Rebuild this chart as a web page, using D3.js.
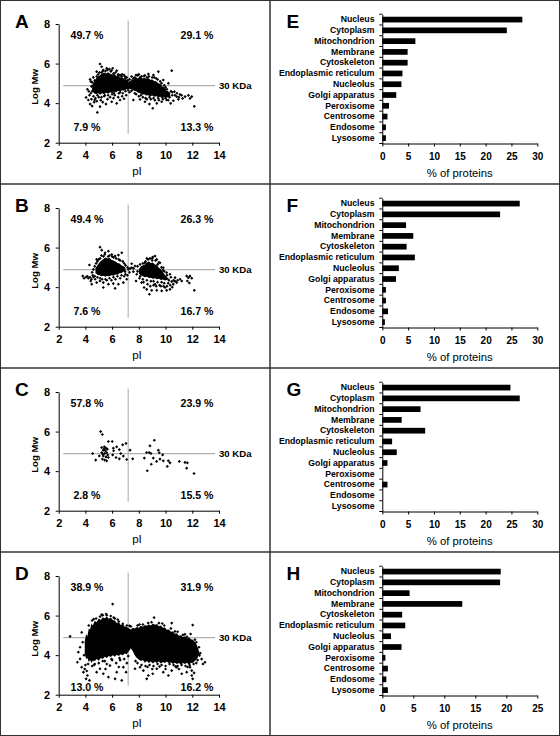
<!DOCTYPE html>
<html><head><meta charset="utf-8">
<script src="https://cdn.jsdelivr.net/npm/d3@7"></script>
<style>body{margin:0;background:#fff}svg{display:block;font-family:"Liberation Sans",Arial,sans-serif}</style>
</head><body><svg id="c" width="560" height="736"></svg>
<script>
// ---------- DATA ----------
const categories = ["Nucleus","Cytoplasm","Mitochondrion","Membrane","Cytoskeleton","Endoplasmic reticulum","Nucleolus","Golgi apparatus","Peroxisome","Centrosome","Endosome","Lysosome"];
const valuesE = [27.1,24.1,6.4,4.9,4.9,3.9,3.7,2.7,1.3,1.0,0.7,0.7];
const valuesF = [26.6,22.8,4.6,6.0,4.7,6.3,3.2,2.65,0.7,0.7,1.1,0.5];
const valuesG = [24.8,26.6,7.4,3.75,8.3,1.9,2.8,1.0,0,1.0,0,0];
const valuesH = [19.1,19.0,4.4,12.9,3.2,3.7,1.4,3.1,0.5,0.9,0.65,0.9];
const barTicks30 = [0,5,10,15,20,25,30];
const barTicks25 = [0,5,10,15,20,25];
const pITicks = [2,4,6,8,10,12,14];
const mwTicks = [2,4,6,8];
const cutPI = 7.2;
const cutMw = 4.88;
const quadA = ["49.7 %","29.1 %","7.9 %","13.3 %"];
const quadB = ["49.4 %","26.3 %","7.6 %","16.7 %"];
const quadC = ["57.8 %","23.9 %","2.8 %","15.5 %"];
const quadD = ["38.9 %","31.9 %","13.0 %","16.2 %"];

// dense (solid-looking) cores of the clouds: [pI, lowest logMw, highest logMw]
const coreA = [[4.5,4.6,4.9],[4.65,4.5,5.1],[4.8,4.45,5.25],[4.95,4.5,5.35],[5.1,4.42,5.42],[5.25,4.5,5.5],[5.4,4.45,5.55],[5.55,4.52,5.5],[5.7,4.48,5.56],[5.85,4.55,5.48],[6.0,4.5,5.45],[6.15,4.58,5.5],[6.3,4.55,5.38],[6.45,4.62,5.4],[6.6,4.58,5.3],[6.75,4.65,5.32],[6.9,4.62,5.22],[7.05,4.7,5.2],[7.2,4.7,5.08],[7.35,4.72,5.12],[7.5,4.68,5.1],[7.65,4.62,5.22],[7.8,4.6,5.3],[7.95,4.52,5.25],[8.1,4.5,5.32],[8.25,4.42,5.25],[8.4,4.45,5.3],[8.55,4.38,5.22],[8.7,4.4,5.28],[8.85,4.35,5.18],[9.0,4.38,5.2],[9.15,4.32,5.12],[9.3,4.35,5.1],[9.45,4.3,5.0],[9.6,4.32,4.98],[9.75,4.28,4.85],[9.9,4.3,4.8],[10.05,4.28,4.65],[10.2,4.3,4.6],[10.35,4.32,4.45]];
const coreB = [[4.75,4.72,4.95],[4.9,4.62,5.1],[5.05,4.6,5.25],[5.2,4.55,5.35],[5.35,4.58,5.42],[5.5,4.52,5.5],[5.65,4.56,5.45],[5.8,4.55,5.48],[5.95,4.6,5.38],[6.1,4.58,5.35],[6.25,4.64,5.3],[6.4,4.62,5.22],[6.55,4.7,5.2],[6.7,4.72,5.1],[6.85,4.78,5.05],[7.0,4.82,4.98],[7.5,null,null],[8.0,4.68,4.92],[8.15,4.6,5.0],[8.3,4.55,5.1],[8.45,4.5,5.15],[8.6,4.52,5.25],[8.75,4.46,5.3],[8.9,4.48,5.22],[9.05,4.42,5.25],[9.2,4.45,5.15],[9.35,4.4,5.1],[9.5,4.42,4.98],[9.65,4.36,4.9],[9.8,4.38,4.75],[9.95,4.34,4.62],[10.1,4.36,4.5],[10.25,4.38,4.42]];
const coreC = [];
const coreD = [[3.95,4.1,4.7],[4.05,3.8,5.05],[4.15,3.85,4.95],[4.25,3.65,5.35],[4.35,3.75,5.3],[4.45,3.6,5.6],[4.55,3.72,5.5],[4.7,3.7,5.72],[4.85,3.8,5.68],[5.0,3.72,5.85],[5.15,3.85,5.78],[5.3,3.8,5.92],[5.45,3.92,5.86],[5.6,3.85,5.95],[5.75,3.95,5.84],[5.9,3.9,5.9],[6.05,4.0,5.78],[6.2,3.92,5.75],[6.35,4.02,5.62],[6.5,3.95,5.66],[6.65,4.05,5.52],[6.8,4.0,5.55],[6.95,4.08,5.45],[7.1,4.05,5.42],[7.25,4.2,5.36],[7.4,4.35,5.3],[7.55,4.2,5.38],[7.7,3.98,5.34],[7.85,3.85,5.42],[8.0,3.78,5.38],[8.15,3.7,5.48],[8.3,3.75,5.44],[8.45,3.62,5.52],[8.6,3.7,5.48],[8.75,3.6,5.55],[8.9,3.68,5.5],[9.05,3.58,5.6],[9.2,3.66,5.54],[9.35,3.6,5.58],[9.5,3.68,5.46],[9.65,3.58,5.5],[9.8,3.65,5.38],[9.95,3.6,5.4],[10.1,3.68,5.28],[10.25,3.58,5.3],[10.4,3.64,5.18],[10.55,3.55,5.2],[10.7,3.62,5.08],[10.85,3.55,5.1],[11.0,3.6,4.98],[11.15,3.52,5.0],[11.3,3.6,4.92],[11.45,3.55,4.95],[11.6,3.62,4.85],[11.75,3.52,4.9],[11.9,3.6,4.8],[12.05,3.62,4.78],[12.2,3.7,4.65],[12.35,3.8,4.5],[12.45,3.95,4.3],[12.55,4.05,4.1]];

// individual points: [pI, logMw]
const pointsA = [[5.09,5.98],[5.22,5.84],[5.34,5.67],[5.59,5.76],[5.79,5.72],[6.04,5.76],[6.34,5.64],[6.59,5.42],[6.89,5.42],[7.09,5.30],[4.84,5.59],[4.59,5.30],[4.35,5.20],
[4.15,4.70],[4.05,4.29],[4.22,4.16],[4.35,3.95],[4.50,3.85],[4.69,4.16],[4.89,3.53],[5.09,3.82],[5.54,3.95],[5.97,4.07],[6.34,3.99],[6.59,4.16],[6.89,4.22],
[7.46,5.34],[7.79,5.42],[8.09,5.30],[8.39,5.37],[8.71,5.47],[9.09,5.42],[9.46,5.59],[10.46,5.64],[9.83,5.17],[10.21,5.00],
[7.59,4.16],[8.09,4.19],[8.46,4.07],[8.79,3.95],[9.04,3.74],[9.34,3.99],[9.71,4.07],[10.08,4.16],[10.38,3.99],[10.58,4.12],
[10.83,4.33],[11.08,4.44],[11.28,4.24],[11.46,4.33],[11.71,4.39],[11.83,4.24],[11.96,4.33],[12.15,3.84],[10.66,4.58],[10.96,4.19],
[4.4,4.5],[4.45,4.85],[4.5,5.05],[4.6,4.35],[4.75,4.25],[5.0,4.3],[5.2,4.3],[5.4,4.35],[5.7,4.4],[6.0,4.45],[6.2,4.4],[6.5,4.5],[6.8,4.5],[7.0,4.6],[7.3,4.55],
[4.95,5.45],[5.2,5.55],[5.5,5.62],[5.9,5.6],[6.1,5.5],[6.5,5.4],[6.7,5.35],[7.0,5.25],[7.3,5.2],[7.6,5.25],[7.9,5.4],[8.2,5.35],[8.6,5.3],[9.0,5.3],[9.3,5.25],[9.6,5.1],[9.9,4.9],[10.1,4.7],[10.4,4.6],[10.5,4.4],[10.3,4.3],
[7.8,4.45],[8.0,4.35],[8.3,4.3],[8.6,4.2],[8.9,4.2],[9.2,4.15],[9.5,4.15],[9.8,4.2],[10.0,4.25],[10.2,4.15],
[4.5,4.6],[4.6,4.75],[4.7,5.15],[4.85,5.35],[4.9,4.4],[5.05,5.55],[5.3,5.62],[5.45,4.4],[5.65,5.68],[5.95,5.65],[6.15,4.5],[6.25,5.55],[6.45,5.45],[6.6,4.55],[6.75,5.45],[6.95,5.35],[7.15,5.15],[7.2,4.65],[7.45,4.62],[7.5,5.15],[7.7,5.3],[7.7,4.5],[8.0,5.45],[8.15,4.4],[8.45,5.4],[8.5,4.25],[8.75,5.35],[8.8,4.3],[9.15,5.3],[9.1,4.25],[9.4,5.2],[9.45,4.25],[9.7,5.0],[9.75,4.3],[10.0,4.8],[10.05,4.35],[10.25,4.5],[10.5,4.55],[10.7,4.4],[10.85,4.5],[11.0,4.3],[11.2,4.4],[4.3,4.4],[4.25,4.6],[4.4,5.1],[4.45,4.2],[4.65,4.05],[4.85,4.1],[5.15,4.15],[5.3,4.05],[5.65,4.2],[5.85,4.3],[6.1,4.25],[6.45,4.3],[6.75,4.35],[7.05,4.4]];
const pointsB = [[5.09,6.02],[5.22,5.87],[5.47,5.74],[5.72,5.82],[5.97,5.65],[6.22,5.57],[6.47,5.62],[6.72,5.74],[5.59,5.40],[4.84,5.40],
[4.30,5.12],[3.80,4.56],[4.05,4.51],[4.22,4.45],[4.40,4.31],[4.59,4.51],[4.72,4.40],[4.47,4.15],[4.84,4.23],[5.09,4.31],[5.34,4.23],[5.34,3.98],[5.72,4.15],[6.09,4.18],[6.22,3.94],[6.47,4.15],[6.84,4.23],[7.09,4.40],[6.97,4.78],
[7.21,4.90],[7.46,4.98],[7.59,4.78],[7.71,5.07],[7.84,4.65],[7.79,4.31],[7.46,5.18],
[8.09,5.15],[8.46,5.23],[8.84,5.45],[9.04,5.52],[9.21,5.57],[9.34,5.40],[9.58,5.23],[9.83,4.98],[10.08,4.73],[10.33,4.65],
[8.21,4.23],[8.39,3.98],[8.59,3.89],[8.79,3.64],[8.96,3.84],[9.21,4.15],[9.34,3.84],[9.71,3.81],[9.96,3.98],[10.08,3.84],[10.33,3.89],[10.58,4.15],[10.83,4.23],[10.46,4.28],[11.08,4.40],[10.71,4.48],
[11.58,4.56],[11.71,4.48],[11.83,4.56],[11.96,4.45],[11.63,4.31],[11.78,4.21],[12.15,3.84],[11.21,4.31],
[4.5,4.75],[4.6,4.9],[4.7,5.05],[4.9,5.3],[5.1,5.45],[5.35,5.55],[5.8,5.6],[6.1,5.5],[6.5,5.4],[6.8,5.3],[7.0,5.1],
[4.9,4.5],[5.1,4.45],[5.5,4.4],[5.8,4.45],[6.1,4.5],[6.4,4.55],[6.7,4.6],[7.0,4.65],[7.3,4.75],
[7.9,4.8],[8.1,4.55],[8.3,4.4],[8.6,4.35],[8.9,4.3],[9.1,4.3],[9.4,4.25],[9.7,4.25],[9.9,4.2],[10.2,4.2],
[8.2,5.0],[8.5,5.3],[8.7,5.4],[9.0,5.35],[9.4,5.15],[9.7,5.0],[9.9,4.8],[10.1,4.6],[10.4,4.5],[10.6,4.35],
[4.55,4.6],[4.7,4.55],[4.8,5.2],[5.0,5.4],[5.2,5.6],[5.25,4.4],[5.45,5.65],[5.6,4.35],[5.7,5.55],[5.95,4.35],[6.0,5.55],[6.25,4.4],[6.3,5.45],[6.6,4.45],[6.6,5.35],[6.9,4.55],[6.9,5.2],[7.15,4.6],[7.15,5.0],[7.35,4.95],[7.6,4.95],[7.9,5.05],[8.05,4.45],[8.3,5.2],[8.35,4.25],[8.6,5.45],[8.65,4.15],[8.85,4.05],[9.0,5.45],[9.1,4.1],[9.25,5.35],[9.3,4.05],[9.5,5.25],[9.55,4.1],[9.65,4.05],[9.8,4.85],[9.85,4.05],[10.0,4.5],[10.1,4.05],[10.25,4.35],[10.35,4.1],[10.5,4.0],[10.7,4.3],[10.9,4.35],[3.9,4.45],[4.15,4.55],[4.35,4.5],[4.45,4.4]];
const pointsC = [[5.14,6.00],[5.27,5.85],[5.72,5.50],[6.01,5.50],[5.22,5.19],[5.42,5.23],[5.54,5.16],[5.34,5.06],[5.49,5.03],[5.64,5.11],[5.22,4.94],[5.44,4.89],[5.59,4.94],[5.34,4.77],[5.54,4.72],[5.72,4.69],[5.27,4.61],[5.44,4.56],[5.59,4.52],[4.54,4.89],[4.77,4.56],[5.04,4.77],[5.39,5.11],[5.29,4.86],[5.67,4.82],
[6.09,5.16],[6.11,5.03],[6.04,4.82],[6.34,5.23],[6.54,5.09],[6.79,5.33],[7.04,5.40],[6.64,4.89],[6.29,4.69],[6.54,4.62],[6.84,4.76],[7.09,4.59],[7.34,5.06],[7.54,4.62],
[9.16,5.56],[8.83,5.28],[8.58,4.94],[8.78,4.94],[8.91,4.89],[8.41,4.66],[9.08,4.66],[9.46,5.06],[9.53,4.93],[9.78,4.82],[9.58,4.61],[9.83,4.52],[9.33,4.49],[8.93,4.35],[10.21,4.52],[10.33,4.42],[10.13,4.24],[8.63,4.02],[11.03,4.49],[11.45,4.44],[11.63,4.42],[11.58,4.15],[12.13,3.88]];
const pointsD = [[2.85,4.95],[3.72,5.15],[3.6,4.4],[3.8,4.65],[3.47,4.15],[3.9,4.0],[3.6,3.81],[3.4,3.64],[3.72,3.39],[3.85,3.14],[4.15,2.97],[4.05,2.80],[4.3,2.72],[4.0,3.5],[3.95,3.3],[4.1,3.2],
[4.84,3.14],[5.09,3.31],[5.34,3.06],[5.72,2.89],[5.84,3.47],[6.22,2.80],[6.34,3.14],[6.84,3.39],[6.72,2.72],[7.04,3.14],[4.5,3.45],[4.7,3.55],[5.0,3.6],[5.3,3.7],[5.6,3.55],[6.0,3.75],[6.3,3.6],[6.6,3.75],[6.9,3.8],[7.1,3.6],[5.5,3.3],[6.5,3.4],
[6.04,6.58],[4.5,5.75],[4.8,5.85],[5.1,5.95],[5.3,6.02],[5.6,6.02],[5.9,5.98],[6.2,5.85],[6.5,5.7],[6.8,5.58],[7.1,5.5],[7.4,5.45],[7.9,5.5],[8.3,5.55],[8.7,5.62],[9.14,5.9],[9.5,5.62],[9.9,5.5],[10.4,5.35],[10.46,5.62],[10.9,5.18],[11.3,5.02],[11.6,4.92],[12.03,5.52],[11.88,5.07],[12.2,4.78],[12.5,4.4],[12.6,4.1],[12.7,3.8],[12.95,3.64],[12.8,3.55],[12.53,3.98],
[7.71,3.31],[8.09,3.39],[8.34,3.22],[8.71,2.97],[8.59,2.80],[9.04,3.06],[9.34,3.31],[9.83,3.14],[10.21,2.97],[10.46,3.22],[10.83,3.39],[11.21,3.06],[11.83,3.39],[11.96,3.22],[11.96,2.97],[12.03,2.80],[12.13,3.10],[11.58,3.14],
[7.9,3.6],[8.2,3.5],[8.5,3.45],[8.8,3.5],[9.1,3.45],[9.4,3.55],[9.7,3.5],[10.0,3.45],[10.3,3.55],[10.6,3.5],[10.9,3.45],[11.2,3.5],[11.5,3.45],[11.8,3.5],[12.1,3.55],[12.3,3.6],[9.0,3.3],[10.0,3.3],[11.0,3.3],
[4.25,5.5],[4.62,5.82],[5.22,6.05],[5.55,6.08],[6.12,5.9],[6.42,5.8],[7.3,5.48],[8.05,5.55],[8.95,5.66],[9.75,5.6],[10.7,5.2],[11.45,5.05],[12.3,4.65],
[4.2,3.55],[4.65,3.5],[5.45,3.7],[5.95,3.8],[6.55,3.85],[7.2,3.95],[7.75,3.7],[8.65,3.4],[9.55,3.42],[10.75,3.42],[11.65,3.4],[12.4,3.75]];

// ---------- DRAW ----------
const svg = d3.select("#c");
const ROW = 184;
const FONT = '"Liberation Sans", Arial, sans-serif';

function scatterPanel(row, letter, core, pts, quad, lowY) {
  const top = row * ROW;
  const g = svg.append("g");
  const x = d3.scaleLinear().domain([2, 14]).range([58.7, 219]);
  const y = d3.scaleLinear().domain([2, 8]).range([top + 142.7, top + 24]);
  g.append("text").attr("x", 15).attr("y", top + 28.3).attr("font-size", 19).attr("font-weight", "bold").text(letter);
  g.append("line").attr("x1", x(cutPI)).attr("x2", x(cutPI)).attr("y1", y(8.17)).attr("y2", y(2.45))
    .attr("stroke", "#a8a8a8").attr("stroke-width", 1);
  g.append("line").attr("x1", x(2.35)).attr("x2", x(13.7)).attr("y1", y(cutMw)).attr("y2", y(cutMw))
    .attr("stroke", "#b0b0b0").attr("stroke-width", 1.2);
  if (core.length) {
    const area = d3.area().defined(d => d[1] != null).x(d => x(d[0])).y0(d => y(d[1])).y1(d => y(d[2]));
    g.append("path").datum(core).attr("d", area).attr("fill", "#000");
  }
  const sym = d3.symbol(d3.symbolSquare, 5);
  g.selectAll("path.pt").data(pts).join("path").attr("class", "pt").attr("d", sym)
    .attr("transform", d => `translate(${x(d[0])},${y(d[1])}) rotate(45)`).attr("fill", "#000");
  const xa = g.append("g").attr("transform", `translate(0,${y(2)})`)
    .call(d3.axisBottom(x).tickValues(pITicks).tickSize(3).tickSizeOuter(0).tickPadding(6).tickFormat(d3.format("d")));
  const ya = g.append("g").attr("transform", `translate(${x(2)},0)`)
    .call(d3.axisLeft(y).tickValues(mwTicks).tickSize(3).tickSizeOuter(0).tickPadding(5.5).tickFormat(d3.format("d")));
  [xa, ya].forEach(a => {
    a.selectAll("path,line").attr("stroke", "#000");
    a.selectAll("text").attr("font-size", 11).attr("font-weight", "bold").attr("fill", "#000").attr("font-family", FONT);
  });
  g.append("text").attr("x", 137).attr("y", top + 171).attr("dy", "0.35em").attr("text-anchor", "middle").attr("font-size", 11.5).text("pI");
  g.append("text").attr("transform", `translate(35,${top + 87}) rotate(-90)`).attr("dy", "0.35em").attr("text-anchor", "middle")
    .attr("font-size", 9.6).attr("font-weight", "bold").text("Log Mw");
  g.append("text").attr("x", 219).attr("y", y(cutMw)).attr("dy", "0.35em").attr("font-size", 9.6).attr("font-weight", "bold").text("30 KDa");
  const qx = [87, 197, 87, 197];
  const qy = [top + 35.5, top + 35.5, top + lowY, top + lowY];
  quad.forEach((t, i) => g.append("text").attr("x", qx[i]).attr("y", qy[i]).attr("dy", "0.35em").attr("text-anchor", "middle")
    .attr("font-size", 10.6).attr("font-weight", "bold").text(t));
}

function barPanel(row, letter, values, ticks) {
  const top = row * ROW;
  const g = svg.append("g");
  const x = d3.scaleLinear().domain([0, ticks[ticks.length - 1]]).range([382.3, 537.3]);
  const y = d3.scaleBand().domain(categories).range([top + 14.2, top + 143.5]).paddingInner(0.47).paddingOuter(0.235);
  g.append("text").attr("x", 286.5).attr("y", top + 28).attr("font-size", 19).attr("font-weight", "bold").text(letter);
  g.selectAll("rect.bar").data(values).join("rect").attr("class", "bar")
    .attr("x", x(0)).attr("y", (d, i) => y(categories[i])).attr("width", d => x(d) - x(0)).attr("height", y.bandwidth()).attr("fill", "#000");
  const xa = g.append("g").attr("transform", `translate(0,${top + 143.5})`)
    .call(d3.axisBottom(x).tickValues(ticks).tickSize(3).tickSizeOuter(0).tickPadding(6).tickFormat(d3.format("d")));
  xa.selectAll("text").attr("font-size", 10).attr("font-weight", "bold");
  const ya = g.append("g").attr("transform", `translate(${x(0)},0)`)
    .call(d3.axisLeft(y).tickSize(0).tickSizeOuter(0).tickPadding(7.8));
  ya.selectAll("text").attr("font-size", 8.7).attr("font-weight", "bold");
  [xa, ya].forEach(a => { a.selectAll("path,line").attr("stroke", "#000"); a.selectAll("text").attr("fill", "#000").attr("font-family", FONT); });
  const bounds = categories.map(c => y(c) - y.step() * y.paddingInner() / 2).concat([top + 143.5]);
  g.selectAll("line.bt").data(bounds).join("line").attr("class", "bt")
    .attr("x1", x(0) - 3).attr("x2", x(0)).attr("y1", d => d).attr("y2", d => d).attr("stroke", "#000");
  g.append("text").attr("x", (x.range()[0] + x.range()[1]) / 2).attr("y", top + 173.3).attr("dy", "0.35em")
    .attr("text-anchor", "middle").attr("font-size", 11.3).text("% of proteins");
}

svg.append("rect").attr("width", 560).attr("height", 736).attr("fill", "#fff");
scatterPanel(0, "A", coreA, pointsA, quadA, 127.3);
scatterPanel(1, "B", coreB, pointsB, quadB, 127.3);
scatterPanel(2, "C", coreC, pointsC, quadC, 127);
scatterPanel(3, "D", coreD, pointsD, quadD, 135.5);
barPanel(0, "E", valuesE, barTicks30);
barPanel(1, "F", valuesF, barTicks30);
barPanel(2, "G", valuesG, barTicks30);
barPanel(3, "H", valuesH, barTicks25);

const frame = svg.append("g").attr("stroke", "#333").attr("fill", "none");
frame.append("rect").attr("x", 0.5).attr("y", 0.5).attr("width", 559).attr("height", 735).attr("stroke-width", 1);
frame.append("line").attr("x1", 270).attr("x2", 270).attr("y1", 0).attr("y2", 736).attr("stroke-width", 1.5);
[184, 368, 552].forEach(v => frame.append("line").attr("x1", 0).attr("x2", 560).attr("y1", v).attr("y2", v).attr("stroke-width", 1.5));
</script></body></html>
